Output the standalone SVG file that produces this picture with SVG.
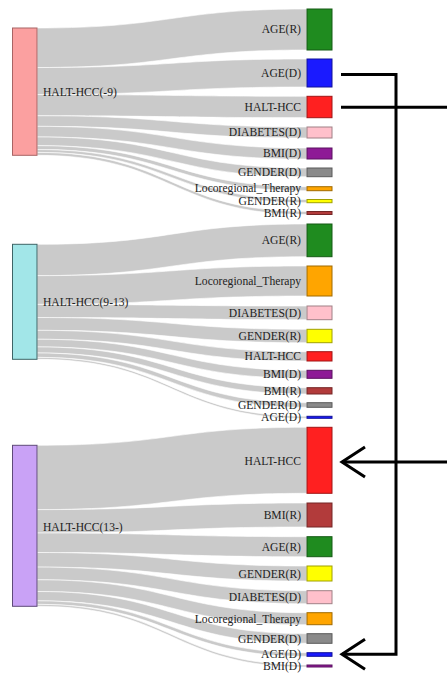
<svg xmlns="http://www.w3.org/2000/svg" width="447" height="698" viewBox="0 0 447 698">
<defs>
<style>
.bg{fill:#fff}
.flow{fill:#cacaca;stroke:#fff;stroke-width:0.6}
.lbl{font-family:"Liberation Serif","Times New Roman",serif;font-size:11.6px;fill:#222;dominant-baseline:central}
.tl{text-anchor:end}
.nd{stroke-width:1}
.arrow{fill:none;stroke:#000;stroke-width:3}
</style>
<marker id="chev" markerUnits="userSpaceOnUse" markerWidth="40" markerHeight="40" viewBox="-30 -20 40 40" refX="0" refY="0" orient="auto" overflow="visible">
<path d="M-23,-15 L0,0 L-23,15" fill="none" stroke="#000" stroke-width="3"/>
</marker>
</defs>
<rect class="bg" x="0" y="0" width="447" height="698"/>

<g id="flows">
<!-- group 1 -->
<path class="flow" d="M37,28 C172,28 172,9 307,9 L307,50 C172,50 172,67.54 37,67.54 Z"/>
<path class="flow" d="M37,67.54 C172,67.54 172,59 307,59 L307,87 C172,87 172,94.54 37,94.54 Z"/>
<path class="flow" d="M37,94.54 C172,94.54 172,96.3 307,96.3 L307,117.7 C172,117.7 172,115.76 37,115.76 Z"/>
<path class="flow" d="M37,115.76 C172,115.76 172,127 307,127 L307,138 C172,138 172,126.37 37,126.37 Z"/>
<path class="flow" d="M37,126.37 C172,126.37 172,148 307,148 L307,159 C172,159 172,136.98 37,136.98 Z"/>
<path class="flow" d="M37,136.98 C172,136.98 172,168 307,168 L307,176.7 C172,176.7 172,145.66 37,145.66 Z"/>
<path class="flow" d="M37,145.66 C172,145.66 172,186.7 307,186.7 L307,190.7 C172,190.7 172,149.52 37,149.52 Z"/>
<path class="flow" d="M37,149.52 C172,149.52 172,199.5 307,199.5 L307,202.7 C172,202.7 172,152.41 37,152.41 Z"/>
<path class="flow" d="M37,152.41 C172,152.41 172,211.5 307,211.5 L307,214.5 C172,214.5 172,155.3 37,155.3 Z"/>
<!-- group 2 -->
<path class="flow" d="M37,244.3 C172,244.3 172,224 307,224 L307,256.7 C172,256.7 172,275.64 37,275.64 Z"/>
<path class="flow" d="M37,275.64 C172,275.64 172,266 307,266 L307,296 C172,296 172,304.39 37,304.39 Z"/>
<path class="flow" d="M37,304.39 C172,304.39 172,306 307,306 L307,319.7 C172,319.7 172,317.52 37,317.52 Z"/>
<path class="flow" d="M37,317.52 C172,317.52 172,329.3 307,329.3 L307,342.7 C172,342.7 172,330.36 37,330.36 Z"/>
<path class="flow" d="M37,330.36 C172,330.36 172,351.7 307,351.7 L307,361 C172,361 172,339.27 37,339.27 Z"/>
<path class="flow" d="M37,339.27 C172,339.27 172,370.3 307,370.3 L307,378.3 C172,378.3 172,346.94 37,346.94 Z"/>
<path class="flow" d="M37,346.94 C172,346.94 172,387.7 307,387.7 L307,394 C172,394 172,352.98 37,352.98 Z"/>
<path class="flow" d="M37,352.98 C172,352.98 172,402.7 307,402.7 L307,407.3 C172,407.3 172,357.39 37,357.39 Z"/>
<path class="flow" d="M37,357.39 C172,357.39 172,416.3 307,416.3 L307,418.3 C172,418.3 172,359.31 37,359.31 Z"/>
<!-- group 3 -->
<path class="flow" d="M37,445.3 C172,445.3 172,427.3 307,427.3 L307,493.3 C172,493.3 172,509.62 37,509.62 Z"/>
<path class="flow" d="M37,509.62 C172,509.62 172,503 307,503 L307,527 C172,527 172,533.01 37,533.01 Z"/>
<path class="flow" d="M37,533.01 C172,533.01 172,536.7 307,536.7 L307,556.7 C172,556.7 172,552.5 37,552.5 Z"/>
<path class="flow" d="M37,552.5 C172,552.5 172,566 307,566 L307,581 C172,581 172,567.12 37,567.12 Z"/>
<path class="flow" d="M37,567.12 C172,567.12 172,590.7 307,590.7 L307,603.7 C172,603.7 172,579.79 37,579.79 Z"/>
<path class="flow" d="M37,579.79 C172,579.79 172,612.7 307,612.7 L307,624.7 C172,624.7 172,591.49 37,591.49 Z"/>
<path class="flow" d="M37,591.49 C172,591.49 172,633.7 307,633.7 L307,643.3 C172,643.3 172,600.85 37,600.85 Z"/>
<path class="flow" d="M37,600.85 C172,600.85 172,652.7 307,652.7 L307,656.3 C172,656.3 172,604.36 37,604.36 Z"/>
<path class="flow" d="M37,604.36 C172,604.36 172,665 307,665 L307,667 C172,667 172,606.31 37,606.31 Z"/>
</g>

<!-- source nodes -->
<g id="src-1"><rect class="nd" x="12.5" y="28" width="24.5" height="127.3" fill="#fba0a0" stroke="#a86464"/><text class="lbl" x="43" y="92.5">HALT-HCC(-9)</text></g>
<g id="src-2"><rect class="nd" x="12.5" y="244.3" width="24.5" height="115" fill="#a2e6e8" stroke="#3e6466"/><text class="lbl" x="43" y="302">HALT-HCC(9-13)</text></g>
<g id="src-3"><rect class="nd" x="12.5" y="445.3" width="24.5" height="161" fill="#c9a2f6" stroke="#5e4a78"/><text class="lbl" x="43" y="527">HALT-HCC(13-)</text></g>

<!-- group 1 targets -->
<g id="g1-age-r"><rect class="nd" x="307" y="9" width="25" height="41" fill="#1f8b1f" stroke="#145a14"/><text class="lbl tl" x="301" y="29.5">AGE(R)</text></g>
<g id="g1-age-d"><rect class="nd" x="307" y="59" width="25" height="28" fill="#1a1aff" stroke="#10109a"/><text class="lbl tl" x="301" y="73">AGE(D)</text></g>
<g id="g1-halt"><rect class="nd" x="307" y="96.3" width="25" height="21.4" fill="#ff2020" stroke="#a01414"/><text class="lbl tl" x="301" y="107">HALT-HCC</text></g>
<g id="g1-diab"><rect class="nd" x="307" y="127" width="25" height="11" fill="#ffc0cb" stroke="#a08086"/><text class="lbl tl" x="301" y="132.5">DIABETES(D)</text></g>
<g id="g1-bmi-d"><rect class="nd" x="307" y="148" width="25" height="11" fill="#8e1a96" stroke="#5a1060"/><text class="lbl tl" x="301" y="153.5">BMI(D)</text></g>
<g id="g1-gen-d"><rect class="nd" x="307" y="168" width="25" height="8.7" fill="#8a8a8a" stroke="#5a5a5a"/><text class="lbl tl" x="301" y="172.3">GENDER(D)</text></g>
<g id="g1-loco"><rect class="nd" x="307" y="186.7" width="25" height="4" fill="#ffa500" stroke="#a06a00"/><text class="lbl tl" x="301" y="188.7">Locoregional_Therapy</text></g>
<g id="g1-gen-r"><rect class="nd" x="307" y="199.5" width="25" height="3.2" fill="#ffff00" stroke="#a0a000"/><text class="lbl tl" x="301" y="201">GENDER(R)</text></g>
<g id="g1-bmi-r"><rect class="nd" x="307" y="211.5" width="25" height="3" fill="#b23b3b" stroke="#742626"/><text class="lbl tl" x="301" y="213">BMI(R)</text></g>

<!-- group 2 targets -->
<g id="g2-age-r"><rect class="nd" x="307" y="224" width="25" height="32.7" fill="#1f8b1f" stroke="#145a14"/><text class="lbl tl" x="301" y="240.5">AGE(R)</text></g>
<g id="g2-loco"><rect class="nd" x="307" y="266" width="25" height="30" fill="#ffa500" stroke="#a06a00"/><text class="lbl tl" x="301" y="281.5">Locoregional_Therapy</text></g>
<g id="g2-diab"><rect class="nd" x="307" y="306" width="25" height="13.7" fill="#ffc0cb" stroke="#a08086"/><text class="lbl tl" x="301" y="313">DIABETES(D)</text></g>
<g id="g2-gen-r"><rect class="nd" x="307" y="329.3" width="25" height="13.4" fill="#ffff00" stroke="#a0a000"/><text class="lbl tl" x="301" y="336">GENDER(R)</text></g>
<g id="g2-halt"><rect class="nd" x="307" y="351.7" width="25" height="9.3" fill="#ff2020" stroke="#a01414"/><text class="lbl tl" x="301" y="356.5">HALT-HCC</text></g>
<g id="g2-bmi-d"><rect class="nd" x="307" y="370.3" width="25" height="8" fill="#8e1a96" stroke="#5a1060"/><text class="lbl tl" x="301" y="374.5">BMI(D)</text></g>
<g id="g2-bmi-r"><rect class="nd" x="307" y="387.7" width="25" height="6.3" fill="#b23b3b" stroke="#742626"/><text class="lbl tl" x="301" y="391">BMI(R)</text></g>
<g id="g2-gen-d"><rect class="nd" x="307" y="402.7" width="25" height="4.6" fill="#8a8a8a" stroke="#5a5a5a"/><text class="lbl tl" x="301" y="405">GENDER(D)</text></g>
<g id="g2-age-d"><rect class="nd" x="307" y="416.3" width="25" height="2" fill="#1a1aff" stroke="#10109a"/><text class="lbl tl" x="301" y="417.8">AGE(D)</text></g>

<!-- group 3 targets -->
<g id="g3-halt"><rect class="nd" x="307" y="427.3" width="25" height="66" fill="#ff2020" stroke="#a01414"/><text class="lbl tl" x="301" y="461">HALT-HCC</text></g>
<g id="g3-bmi-r"><rect class="nd" x="307" y="503" width="25" height="24" fill="#b23b3b" stroke="#742626"/><text class="lbl tl" x="301" y="515.5">BMI(R)</text></g>
<g id="g3-age-r"><rect class="nd" x="307" y="536.7" width="25" height="20" fill="#1f8b1f" stroke="#145a14"/><text class="lbl tl" x="301" y="547">AGE(R)</text></g>
<g id="g3-gen-r"><rect class="nd" x="307" y="566" width="25" height="15" fill="#ffff00" stroke="#a0a000"/><text class="lbl tl" x="301" y="574">GENDER(R)</text></g>
<g id="g3-diab"><rect class="nd" x="307" y="590.7" width="25" height="13" fill="#ffc0cb" stroke="#a08086"/><text class="lbl tl" x="301" y="597.5">DIABETES(D)</text></g>
<g id="g3-loco"><rect class="nd" x="307" y="612.7" width="25" height="12" fill="#ffa500" stroke="#a06a00"/><text class="lbl tl" x="301" y="619">Locoregional_Therapy</text></g>
<g id="g3-gen-d"><rect class="nd" x="307" y="633.7" width="25" height="9.6" fill="#8a8a8a" stroke="#5a5a5a"/><text class="lbl tl" x="301" y="639">GENDER(D)</text></g>
<g id="g3-age-d"><rect class="nd" x="307" y="652.7" width="25" height="3.6" fill="#1a1aff" stroke="#10109a"/><text class="lbl tl" x="301" y="654.8">AGE(D)</text></g>
<g id="g3-bmi-d"><rect class="nd" x="307" y="665" width="25" height="2" fill="#8e1a96" stroke="#5a1060"/><text class="lbl tl" x="301" y="666.5">BMI(D)</text></g>

<g id="arrows">
<path class="arrow" d="M341,74.5 H396 V654.3 H342" marker-end="url(#chev)"/>
<path class="arrow" d="M341,107.3 H447"/>
<path class="arrow" d="M447,462 H342" marker-end="url(#chev)"/>
</g>
</svg>
